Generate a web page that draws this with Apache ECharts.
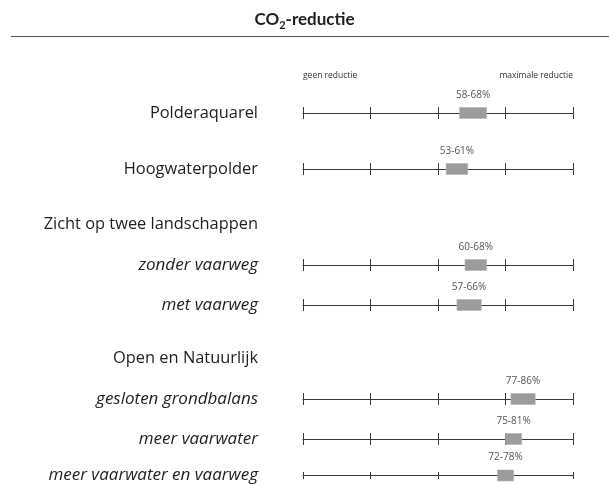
<!DOCTYPE html>
<html>
<head>
<meta charset="utf-8">
<script src="https://cdn.jsdelivr.net/npm/echarts@6/dist/echarts.min.js"></script>
<style>
  html, body { margin: 0; padding: 0; background: #fff; }
  #chart { width: 609px; height: 484px; }
</style>
</head>
<body>
<div id="chart"></div>
<script>
// Scenario rows and their CO2 reduction ranges (percent)
const rowLabels = ['Polderaquarel', 'Hoogwaterpolder', 'zonder vaarweg', 'met vaarweg',
  'gesloten grondbalans', 'meer vaarwater', 'meer vaarwater en vaarweg'];
const lowValues = [58, 53, 60, 57, 77, 75, 72];
const highValues = [68, 61, 68, 66, 86, 81, 78];
const italicRows = [false, false, true, true, true, true, true];
const headerLabels = ['Zicht op twee landschappen', 'Open en Natuurlijk'];
const scaleEnds = ['geen reductie', 'maximale reductie'];
const scaleMin = 0;
const scaleMax = 100;
const scaleStep = 25;

// Layout
const FONT = '"Open Sans", "Noto Sans", sans-serif';
const TITLE_FONT = 'Lato, "Open Sans", sans-serif';
const axisLeft = 303;
const axisWidth = 270;
const rowCenters = [113, 169, 265, 305, 399, 439, 478];
const headerCenters = [224, 358];
const gridHalf = 6;

const grids = [], xAxes = [], yAxes = [], series = [];
rowLabels.forEach((name, i) => {
  grids.push({ left: axisLeft, width: axisWidth, top: rowCenters[i] - gridHalf, height: gridHalf * 2 });
  xAxes.push({
    gridIndex: i, type: 'value', min: scaleMin, max: scaleMax, interval: scaleStep,
    axisLine: { show: true, onZero: true, lineStyle: { color: '#3a3a3a', width: 1 } },
    axisTick: { show: false },
    axisLabel: { show: false },
    splitLine: { show: true, lineStyle: { color: '#3a3a3a', width: 1 } }
  });
  yAxes.push({
    gridIndex: i, type: 'value', min: -1, max: 1, interval: 1,
    axisLine: { show: false }, axisTick: { show: false }, splitLine: { show: false },
    axisLabel: {
      show: true, margin: 45, fontFamily: FONT, color: '#1e1e1e',
      fontSize: italicRows[i] ? 17 : 16.4,
      fontStyle: italicRows[i] ? 'italic' : 'normal',
      formatter: v => (v === 0 ? name : '')
    }
  });
  series.push({
    type: 'custom', xAxisIndex: i, yAxisIndex: i,
    data: [[lowValues[i], highValues[i]]],
    renderItem: (params, api) => {
      const lo = api.value(0), hi = api.value(1);
      const p1 = api.coord([lo, 0]);
      const p2 = api.coord([hi, 0]);
      return {
        type: 'group',
        children: [
          { type: 'rect',
            shape: { x: p1[0], y: p1[1] - 5.5, width: p2[0] - p1[0], height: 11 },
            style: { fill: '#9b9b9b', stroke: '#b5b5b5', lineWidth: 0.6 } },
          { type: 'text',
            style: { x: (p1[0] + p2[0]) / 2, y: p1[1] - 18, text: lo + '-' + hi + '%',
              fill: '#555', font: '10px ' + FONT, align: 'center', verticalAlign: 'middle' } }
        ]
      };
    }
  });
});

const graphics = [
  { type: 'text', left: 'center', top: 11,
    style: {
      text: '{b|CO}{s|2}{b|-reductie}',
      rich: {
        b: { fontFamily: TITLE_FONT, fontSize: 17, fontWeight: 'bold', fill: '#1e1e1e', lineHeight: 22 },
        s: { fontFamily: TITLE_FONT, fontSize: 11, fontWeight: 'bold', fill: '#1e1e1e', lineHeight: 10, verticalAlign: 'bottom' }
      }
    } },
  { type: 'line', shape: { x1: 11, y1: 36.5, x2: 609, y2: 36.5 }, style: { stroke: '#555', lineWidth: 1.2 } },
  { type: 'text', x: axisLeft, y: 76,
    style: { text: scaleEnds[0], fill: '#333', font: '8.5px ' + FONT, align: 'left', verticalAlign: 'middle' } },
  { type: 'text', x: axisLeft + axisWidth, y: 76,
    style: { text: scaleEnds[1], fill: '#333', font: '8.5px ' + FONT, align: 'right', verticalAlign: 'middle' } }
];
headerLabels.forEach((h, i) => {
  graphics.push({ type: 'text', x: axisLeft - 45, y: headerCenters[i],
    style: { text: h, fill: '#1e1e1e', font: '16.4px ' + FONT, align: 'right', verticalAlign: 'middle' } });
});

const chart = echarts.init(document.getElementById('chart'), null, { renderer: 'canvas' });
chart.setOption({
  animation: false,
  backgroundColor: '#fff',
  grid: grids,
  xAxis: xAxes,
  yAxis: yAxes,
  series: series,
  graphic: graphics
});
</script>
</body>
</html>
